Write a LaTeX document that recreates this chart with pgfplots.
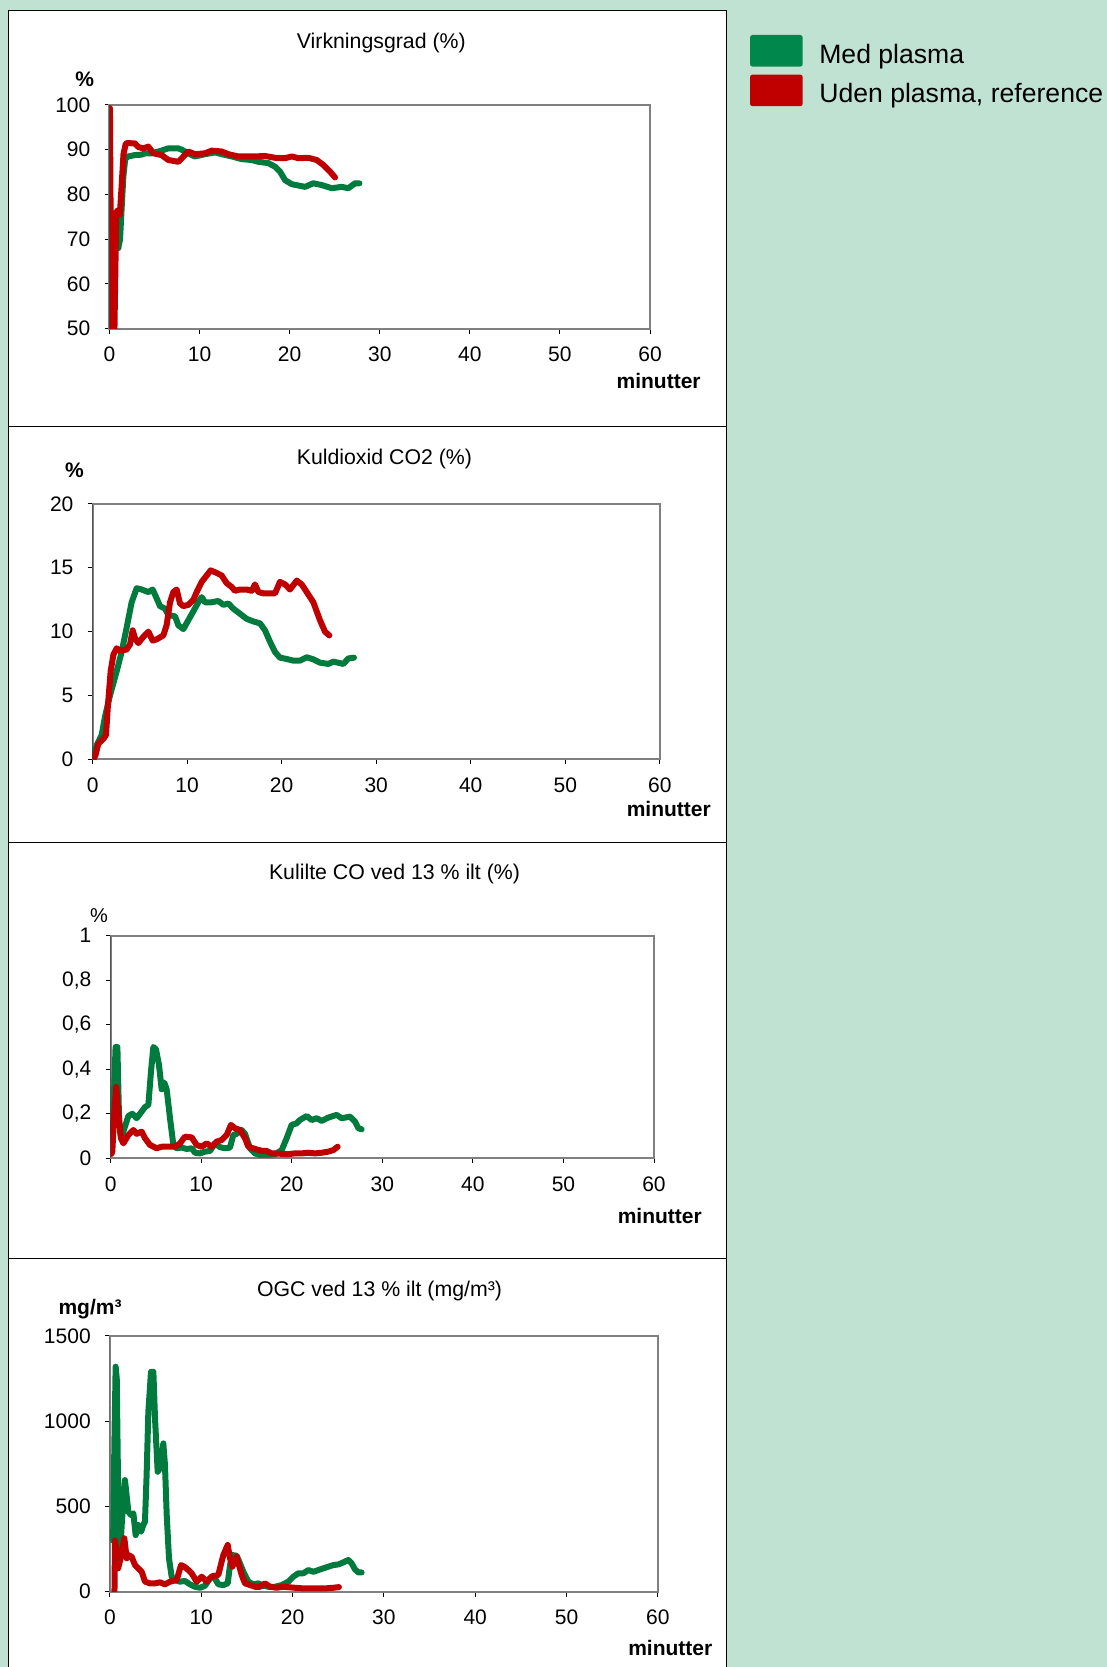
\documentclass[border=0pt]{standalone}
\usepackage{fontspec}
\setmainfont{Liberation Sans}
\usepackage{pgfplots}
\pgfplotsset{compat=1.18}
\definecolor{bg}{RGB}{192,226,211}
\definecolor{lgreen}{RGB}{0,122,61}
\definecolor{leggreen}{RGB}{0,136,76}
\definecolor{lred}{RGB}{192,0,0}
\definecolor{axgray}{RGB}{128,128,128}
\newcommand{\tf}{\fontsize{21}{21}\selectfont}
\newcommand{\ttl}{\fontsize{21.3}{21.3}\selectfont}

\pgfplotsset{
  panel/.style={
    scale only axis,
    xmin=0, xmax=60,
    xtick={0,10,20,30,40,50,60},
    tick align=outside,
    tick pos=left,
    major tick length=5pt,
    tick style={black, line width=1pt},
    axis line style={draw=axgray, line width=2.2pt},
    ticklabel style={font=\tf, inner sep=0pt},
    /pgf/number format/assume math mode=true,
    scaled y ticks=false,
    yticklabel style={xshift=-14pt},
    xticklabel style={yshift=-13pt},
  },
  gline/.style={draw=lgreen, line width=6pt, line join=round, line cap=round, no markers},
  rline/.style={draw=lred, line width=6pt, line join=round, line cap=round, no markers},
}

\begin{document}
\begin{tikzpicture}[x=1pt,y=1pt]
\path[use as bounding box] (0,0) rectangle (1107,1667);
\fill[bg] (0,0) rectangle (1107,1667);
\filldraw[fill=white, draw=black, line width=1pt] (8.5,1656.4) rectangle (726.4,1240.6);
\filldraw[fill=white, draw=black, line width=1pt] (8.5,1240.6) rectangle (726.4,824.8);
\filldraw[fill=white, draw=black, line width=1pt] (8.5,824.8) rectangle (726.4,408);
\filldraw[fill=white, draw=black, line width=1pt] (8.5,408) rectangle (726.4,-5);

% ---------- Panel 1 ----------
\begin{axis}[panel, at={(109.5pt,1338.3pt)}, anchor=origin,
  width=540.5pt, height=223.7pt,
  ymin=50, ymax=100, ytick={50,60,70,80,90,100},
  legend image code/.code={\fill[#1, rounded corners=2.5pt] (0pt,-3.4pt) rectangle (52.7pt,28.2pt);},
  legend style={at={(1.18501,1.31292)}, anchor=north west, draw=none, fill=none,
    inner sep=0pt, outer sep=0pt, row sep=8pt, column sep=16.6pt,
    font=\fontsize{26.6}{26.6}\selectfont,
    nodes={inner sep=0pt}, cells={anchor=base west}},
]
\addlegendimage{draw=none, fill=leggreen}
\addlegendentry{Med plasma}
\addlegendimage{draw=none, fill=lred}
\addlegendentry{Uden plasma, reference}
\addplot[gline, forget plot] coordinates {
(0.98,68) (1.17,70) (1.35,77) (1.54,84) (1.75,88) (2.09,88.5) (2.8,88.8) (3.57,88.9) (3.94,89.2) (4.68,89.2) (5.61,89.7) (6.53,90.3) (7.64,90.3) (8.01,90) (9.12,88.8) (9.49,88.5) (10.6,89) (11.71,89.4) (12.45,89) (13.57,88.5) (14.68,87.9) (15.79,87.7) (16.53,87.3) (17.64,87) (18.38,86.2) (18.93,85.1) (19.49,83.2) (20.23,82.3) (20.97,82) (21.71,81.7) (22.63,82.5) (23.56,82.1) (24.67,81.4) (25.78,81.7) (26.52,81.4) (27.26,82.5) (27.74,82.5)
};
\addplot[rline, forget plot] coordinates {
(0.05,99.3) (0.2,50) (0.35,75) (0.55,50) (0.75,76) (0.95,76.5) (1.15,75.5) (1.35,82) (1.55,89) (1.8,91.3) (1.98,91.5) (2.83,91.4) (3.2,90.6) (3.76,90.3) (4.31,90.7) (4.87,89.2) (5.79,88.8) (6.53,87.7) (7.64,87.3) (8.75,89.6) (9.49,89) (10.6,89.2) (11.34,89.8) (12.45,89.6) (13.19,89) (14.3,88.5) (16.15,88.5) (17.26,88.6) (18.38,88.2) (19.49,88.1) (20.23,88.5) (20.97,88.1) (22.08,88.2) (23.0,87.7) (23.74,86.6) (24.48,85.1) (25.04,83.8)
};
\draw[black, line width=1pt] (rel axis cs:0,0) -- (rel axis cs:0,1);
\end{axis}

% ---------- Panel 2 ----------
\begin{axis}[panel, at={(92.6pt,907.7pt)}, anchor=origin,
  width=567.2pt, height=255.3pt,
  ymin=0, ymax=20, ytick={0,5,10,15,20},
]
\addplot[gline] coordinates {
(0.08,0.1) (0.43,1.1) (0.96,1.9) (1.3,3.3) (1.84,5.0) (2.55,6.9) (3.07,8.4) (3.6,10.3) (4.13,12.3) (4.66,13.4) (5.19,13.3) (5.9,13.1) (6.35,13.3) (6.78,12.6) (7.13,12.0) (7.66,11.8) (8.01,11.3) (8.72,11.2) (9.07,10.5) (9.6,10.2) (10.13,10.9) (10.66,11.6) (11.18,12.3) (11.54,12.7) (11.89,12.3) (12.59,12.3) (13.3,12.4) (13.83,12.1) (14.36,12.2) (14.89,11.8) (15.59,11.4) (16.3,11.0) (17.0,10.8) (17.71,10.65) (18.24,10.1) (18.77,9.2) (19.3,8.4) (19.82,7.96) (20.53,7.86) (21.23,7.73) (21.94,7.73) (22.65,7.99) (23.35,7.83) (24.05,7.57) (24.94,7.47) (25.47,7.65) (26.52,7.47) (27.05,7.9) (27.65,7.96)
};
\addplot[rline] coordinates {
(0.08,0) (0.3,0.3) (0.6,1.2) (1.14,1.6) (1.42,1.9) (1.6,4.0) (1.91,6.9) (2.2,8.2) (2.55,8.7) (2.9,8.5) (3.6,8.6) (3.96,9.0) (4.24,10.1) (4.48,9.5) (4.84,9.1) (5.37,9.6) (5.9,10.0) (6.35,9.3) (6.78,9.4) (7.48,9.7) (7.83,10.5) (8.19,12.3) (8.54,13.1) (8.89,13.3) (9.25,12.2) (9.6,12.0) (10.13,12.1) (10.66,12.5) (11.01,13.1) (11.54,13.9) (12.07,14.4) (12.49,14.8) (13.12,14.6) (13.65,14.4) (14.18,13.8) (14.71,13.5) (15.06,13.2) (15.59,13.3) (16.3,13.3) (16.83,13.2) (17.18,13.7) (17.54,13.1) (18.06,13.0) (18.77,13.0) (19.3,13.0) (19.82,13.9) (20.35,13.7) (20.88,13.3) (21.59,14.0) (22.12,13.7) (22.65,13.1) (23.35,12.3) (24.05,10.9) (24.58,10.0) (25.04,9.7)
};
\draw[black, line width=1pt] (rel axis cs:0,0) -- (rel axis cs:0,1);
\end{axis}

% ---------- Panel 3 ----------
\begin{axis}[panel, at={(110.6pt,508.7pt)}, anchor=origin,
  width=543.4pt, height=222.6pt,
  ymin=0, ymax=1, ytick={0,0.2,0.4,0.6,0.8,1},
  yticklabels={0,{0,2},{0,4},{0,6},{0,8},1},
]
\addplot[gline] coordinates {
(0.1,0.1) (0.3,0.2) (0.55,0.5) (0.75,0.5) (0.95,0.15) (1.15,0.09) (1.41,0.12) (1.96,0.19) (2.4,0.2) (2.88,0.18) (3.43,0.21) (3.8,0.23) (4.17,0.24) (4.46,0.39) (4.72,0.5) (5.01,0.49) (5.34,0.42) (5.64,0.31) (5.93,0.34) (6.19,0.31) (6.56,0.18) (6.93,0.06) (7.29,0.045) (7.85,0.048) (8.4,0.042) (8.95,0.045) (9.32,0.025) (9.87,0.022) (10.42,0.03) (10.97,0.033) (11.53,0.067) (12.08,0.05) (12.63,0.045) (13.18,0.048) (13.55,0.105) (13.92,0.11) (14.47,0.127) (14.84,0.11) (15.39,0.045) (15.94,0.022) (16.49,0.015) (17.23,0.015) (18.15,0.018) (18.89,0.037) (19.44,0.09) (19.99,0.15) (20.54,0.157) (20.91,0.172) (21.65,0.19) (22.2,0.172) (22.75,0.18) (23.31,0.168) (24.04,0.183) (24.96,0.195) (25.51,0.18) (26.43,0.187) (26.99,0.165) (27.36,0.135) (27.72,0.13)
};
\addplot[rline] coordinates {
(0.1,0.02) (0.19,0.03) (0.41,0.21) (0.62,0.32) (0.85,0.21) (1.15,0.09) (1.41,0.067) (1.96,0.105) (2.51,0.127) (2.88,0.11) (3.43,0.12) (3.8,0.09) (4.35,0.06) (5.09,0.045) (5.64,0.052) (6.37,0.052) (7.11,0.052) (7.66,0.067) (8.21,0.097) (8.95,0.094) (9.5,0.06) (10.05,0.052) (10.61,0.067) (11.16,0.052) (11.71,0.075) (12.26,0.082) (12.82,0.105) (13.29,0.15) (13.74,0.135) (14.29,0.127) (14.84,0.09) (15.21,0.052) (15.94,0.042) (16.68,0.034) (17.23,0.033) (17.78,0.022) (18.52,0.021) (19.44,0.018) (20.36,0.022) (21.1,0.022) (21.83,0.025) (22.57,0.022) (23.31,0.025) (24.04,0.03) (24.6,0.037) (25.07,0.052)
};
\draw[black, line width=1pt] (rel axis cs:0,0) -- (rel axis cs:0,1);
\end{axis}

% ---------- Panel 4 ----------
\begin{axis}[panel, at={(109.9pt,75.3pt)}, anchor=origin,
  width=548pt, height=255.7pt,
  ymin=0, ymax=1500, ytick={0,500,1000,1500},
  yticklabels={0,500,1000,1500},
]
\addplot[gline] coordinates {
(0.35,300) (0.5,900) (0.63,1320) (0.75,1250) (0.9,600) (1.1,200) (1.3,400) (1.65,655) (2.02,469) (2.31,450) (2.57,460) (2.82,332) (3.11,391) (3.41,352) (3.66,391) (3.84,411) (4.02,684) (4.21,1056) (4.5,1290) (4.76,1290) (4.94,1017) (5.23,704) (5.48,723) (5.67,782) (5.85,870) (6.03,743) (6.22,450) (6.47,196) (6.76,88) (7.13,68) (7.67,59) (8.22,63) (8.77,43) (9.32,29) (9.86,23) (10.41,35) (10.96,78) (11.33,94) (11.87,43) (12.42,39) (12.9,49) (13.15,156) (13.41,215) (13.88,211) (14.24,166) (14.61,117) (15.16,59) (15.7,43) (16.25,49) (16.8,35) (17.35,29) (18.08,29) (18.81,39) (19.54,59) (20.08,88) (20.63,108) (21.18,108) (21.73,127) (22.27,117) (22.82,127) (23.37,137) (23.92,147) (24.46,156) (25.01,160) (25.56,172) (26.1,186) (26.47,166) (26.84,131) (27.2,113) (27.56,113)
};
\addplot[rline] coordinates {
(0.5,0) (0.56,300) (0.7,250) (0.9,137) (1.2,200) (1.58,313) (1.84,196) (2.02,215) (2.38,205) (2.75,156) (3.11,137) (3.48,117) (3.84,59) (4.39,49) (4.94,49) (5.49,55) (6.03,43) (6.58,59) (7.31,68) (7.79,156) (8.15,147) (8.59,127) (8.95,108) (9.5,59) (10.05,88) (10.6,59) (11.14,88) (11.87,98) (12.42,215) (12.9,274) (13.15,196) (13.41,147) (13.88,205) (14.43,98) (14.79,49) (15.34,39) (15.89,29) (16.43,29) (16.98,49) (17.53,29) (18.26,23) (18.96,29) (20.27,23) (21.0,20) (21.91,20) (22.82,20) (23.73,20) (24.46,23) (25.08,27)
};
\draw[black, line width=1pt] (rel axis cs:0,0) -- (rel axis cs:0,1);
\end{axis}

% ---------- Titles and labels ----------
\node[font=\ttl, anchor=base, inner sep=0pt] at (381.3,1618.7) {Virkningsgrad (\%)};
\node[font=\ttl, anchor=base, inner sep=0pt] at (384.4,1202.9) {Kuldioxid CO2 (\%)};
\node[font=\ttl, anchor=base, inner sep=0pt] at (394.5,787) {Kulilte CO ved 13 \% ilt (\%)};
\node[font=\ttl, anchor=base, inner sep=0pt] at (379.5,370.3) {OGC ved 13 \% ilt (mg/m³)};

\node[font=\tf\bfseries, anchor=base, inner sep=0pt] at (84.7,1580.3) {\%};
\node[font=\tf\bfseries, anchor=base, inner sep=0pt] at (74.4,1189.4) {\%};
\node[font=\fontsize{20}{20}\selectfont, anchor=base, inner sep=0pt] at (99,744.5) {\%};
\node[font=\tf\bfseries, anchor=base, inner sep=0pt] at (90,352) {mg/m³};

\node[font=\tf\bfseries, anchor=base east, inner sep=0pt] at (700.8,1278.5) {minutter};
\node[font=\tf\bfseries, anchor=base east, inner sep=0pt] at (711,850.5) {minutter};
\node[font=\tf\bfseries, anchor=base east, inner sep=0pt] at (702,443.9) {minutter};
\node[font=\tf\bfseries, anchor=base east, inner sep=0pt] at (712.5,11.5) {minutter};
\end{tikzpicture}
\end{document}
